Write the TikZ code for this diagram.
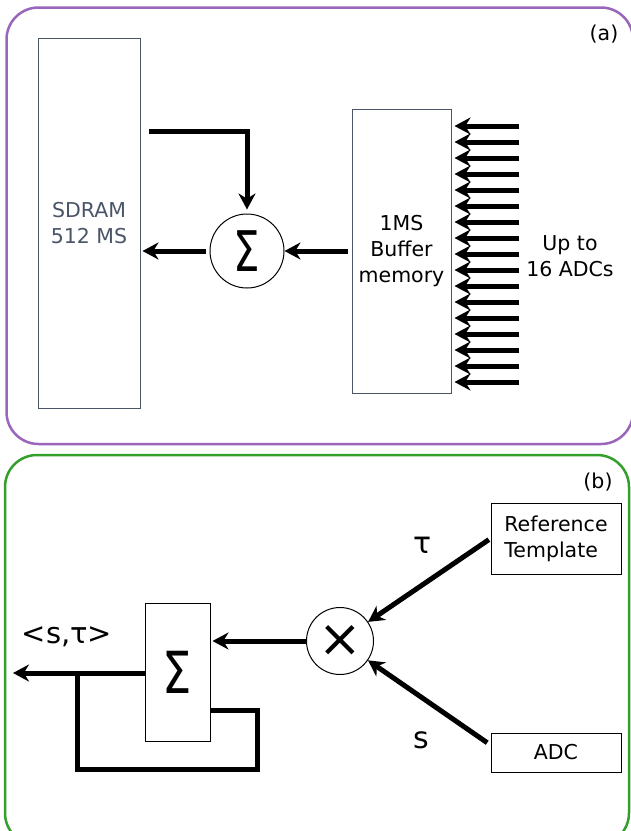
\documentclass[tikz,border=0pt]{standalone}
\usepackage{fontspec}
\setmainfont{DejaVu Sans}
\usetikzlibrary{arrows.meta, calc}
\definecolor{panelA}{RGB}{153,102,187}
\definecolor{panelB}{RGB}{51,160,44}
\definecolor{slate}{RGB}{74,85,104}
\tikzstyle{arrow} = [line width=5pt,-{Stealth[length=16pt,width=17pt]}]
\tikzstyle{wire} = [line width=5pt]
\tikzstyle{panel} = [line width=2.5pt, rounded corners=32pt]
\tikzstyle{block} = [rectangle, draw, line width=1pt, inner sep=0pt, align=center]
\tikzstyle{op} = [circle, draw, line width=1pt, inner sep=0pt]

\begin{document}
\begin{tikzpicture}[x=1pt, y=-1pt,
    every node/.style={font=\fontsize{20.5}{26}\selectfont}]
    \useasboundingbox (0,0) rectangle (631,831);
    % panels
    \draw[panel, panelA] (6.5,7.5) rectangle (633,444);
    \draw[panel, panelB] (5,455) rectangle (629,845);
    \node (taga) at (604,34) {(a)};
    \node (tagb) at (598,482) {(b)};

    % (a) summing buffer into SDRAM
    \node[block, draw=slate, text=slate, minimum width=102pt, minimum height=370pt]
        (sdram) at (89,223) {SDRAM\\512 MS};
    \node[block, draw=slate, minimum width=99pt, minimum height=284pt]
        (buf) at (401.5,251) {1MS\\Buffer\\memory};
    \node[op, minimum size=74pt, font=\fontsize{56}{56}\selectfont]
        (sum) at (247,251) {\scalebox{0.75}[1]{Σ}};
    \coordinate (rd) at (149,131);
    \draw[arrow, shorten >=4pt] (rd) -| (sum);
    \draw[arrow, shorten <=4pt, shorten >=2pt] (sum) -- (sdram.east |- sum);
    \draw[arrow, shorten <=4pt] (buf) -- (sum);
    \foreach \k [evaluate=\k as \y using 126+16*\k] in {0,...,16}
        \draw[arrow] (519,\y) -- ([xshift=3pt]buf.east |- 0,\y);
    \node[align=center] (adcs) at (570,256) {Up to\\16 ADCs};

    % (b) correlator
    \node[block, align=left, minimum width=130pt, minimum height=71pt]
        (ref) at (556,538.5) {Reference\\Template};
    \node[block, minimum width=130pt, minimum height=39pt]
        (adc) at (556,752.5) {ADC};
    \node[op, minimum size=67pt, font=\fontsize{52}{52}\selectfont]
        (mul) at (340,641) {×};
    \node[block, minimum width=65pt, minimum height=138pt, font=\fontsize{58}{58}\selectfont]
        (acc) at (177.5,672) {\scalebox{0.8}[1]{Σ}};
    \draw[arrow, shorten <=2pt] (ref.west) -- (mul);
    \draw[arrow, shorten <=4pt] ([yshift=7.5pt]adc.west) -- (mul);
    \node[font=\fontsize{30}{30}\selectfont] (tau) at (423,545) {τ};
    \node[font=\fontsize{30}{30}\selectfont] (sig) at (421,740) {s};
    \draw[arrow, shorten >=2pt] (mul) -- (acc.east |- mul);
    \coordinate (out) at (13,673);
    \coordinate (jn) at (77,673);
    \draw[arrow] (acc.west |- jn) -- (out);
    \draw[wire] (acc.east |- 0,710) -| (257,769) -| (jn);
    \node[font=\fontsize{29}{29}\selectfont] (dot) at (67,637) {<s,τ>};
\end{tikzpicture}
\end{document}
